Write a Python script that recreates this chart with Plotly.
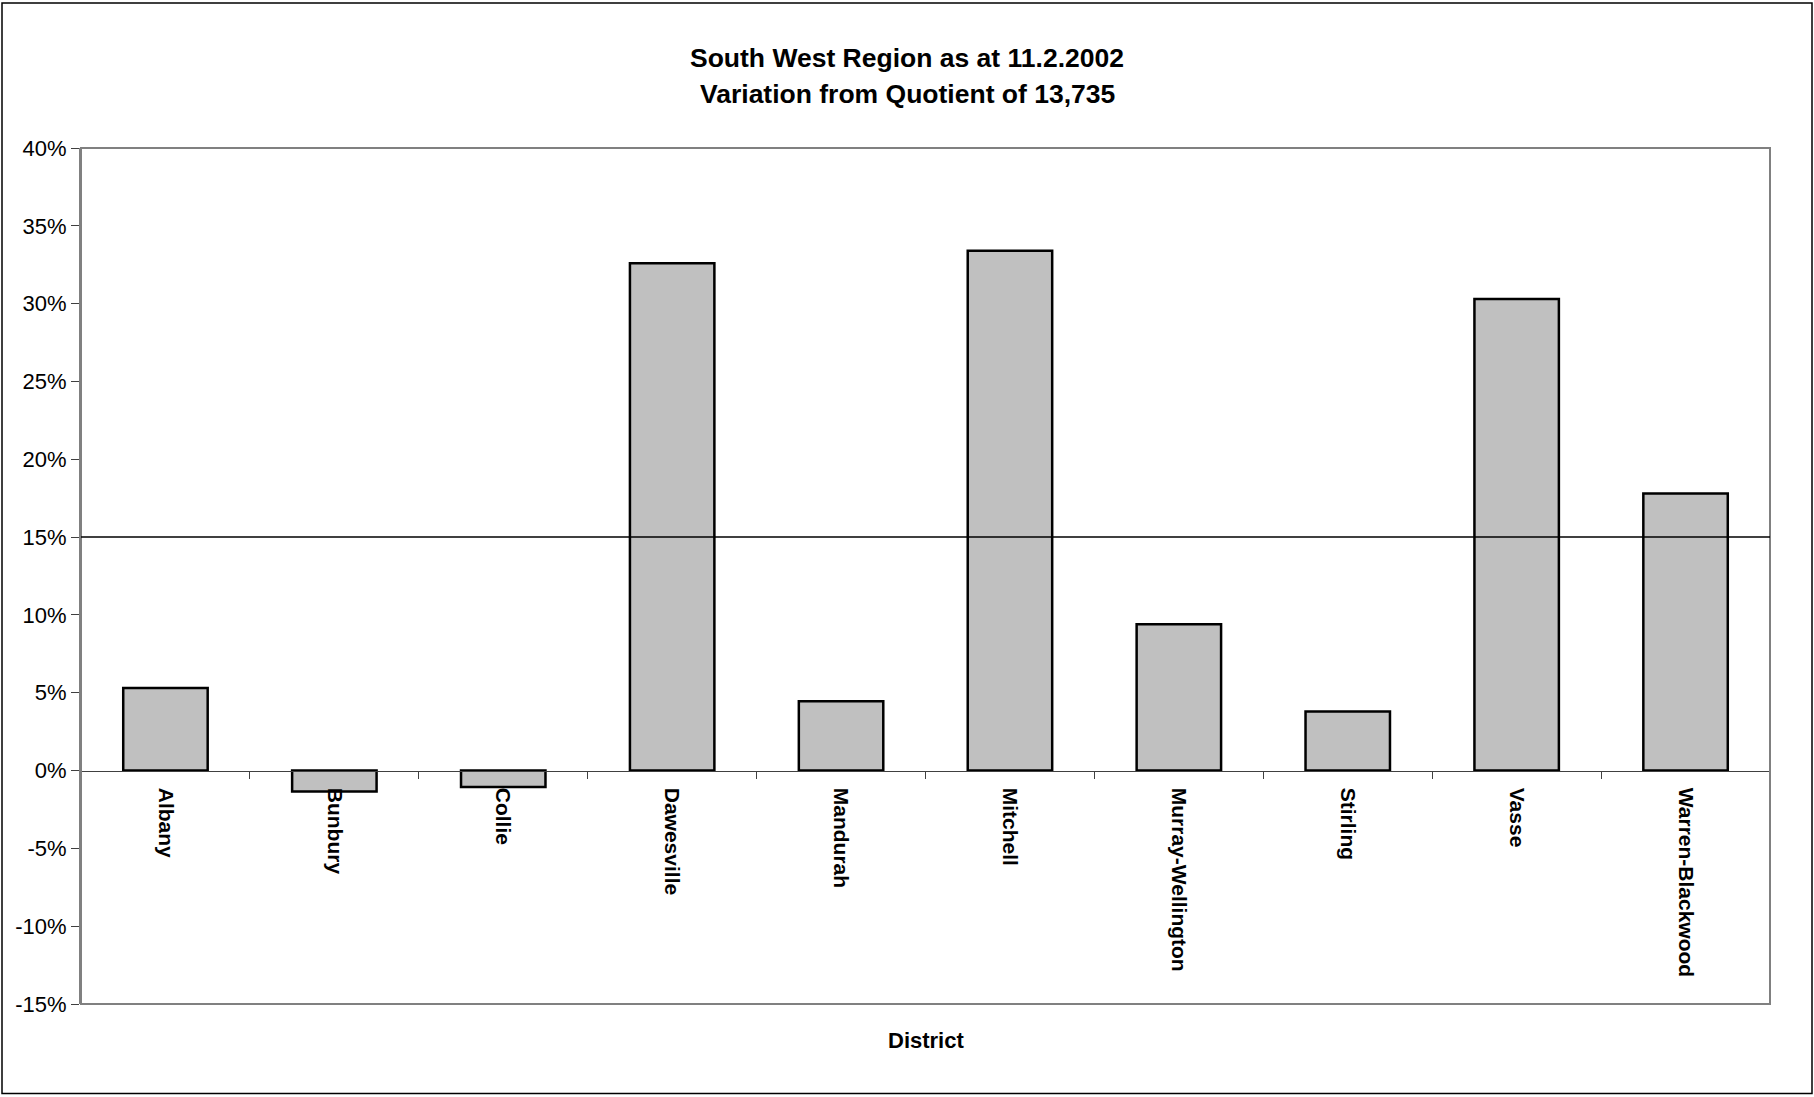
import plotly.graph_objects as go

districts = ["Albany", "Bunbury", "Collie", "Dawesville", "Mandurah", "Mitchell",
             "Murray-Wellington", "Stirling", "Vasse", "Warren-Blackwood"]
variation = [0.053, -0.0135, -0.0105, 0.326, 0.0445, 0.334, 0.094, 0.038, 0.303, 0.178]
y_tick_vals = [-0.15, -0.10, -0.05, 0.0, 0.05, 0.10, 0.15, 0.20, 0.25, 0.30, 0.35, 0.40]
y_tick_text = ["-15%", "-10%", "-5%", "0%", "5%", "10%", "15%", "20%", "25%", "30%", "35%", "40%"]
tolerance_line = 0.15
title_lines = ["South West Region as at 11.2.2002", "Variation from Quotient of 13,735"]
x_title = "District"

FONT = "Liberation Sans, Arial, sans-serif"
W, H = 1814, 1097
ml, mr, mt, mb = 81, 44, 148, 92.5
pw, ph = W - ml - mr, H - mt - mb
ymin, ymax = y_tick_vals[0], y_tick_vals[-1]

def px_to_paper_x(px):
    return (px - ml) / pw

def px_to_paper_y(py):
    return (H - mb - py) / ph

fig = go.Figure()
fig.add_trace(go.Bar(
    x=districts, y=variation,
    marker=dict(color="#C0C0C0", line=dict(color="black", width=2.5)),
    hoverinfo="x+y",
))

fig.update_layout(
    width=W, height=H,
    margin=dict(l=ml, r=mr, t=mt, b=mb),
    paper_bgcolor="white", plot_bgcolor="white",
    showlegend=False,
    bargap=0.5,
    font=dict(family=FONT, size=21, color="black"),
    xaxis=dict(
        type="category",
        anchor="free",
        position=(0 - ymin) / (ymax - ymin),
        showline=True, linecolor="#404040", linewidth=1,
        ticks="outside", ticklen=7, tickcolor="#404040", tickwidth=1,
        tickson="boundaries",
        tickangle=90,
        ticklabelstandoff=12,
        tickfont=dict(family=FONT, size=21, color="black", weight="bold"),
        showgrid=False, zeroline=False,
    ),
    yaxis=dict(
        range=[ymin, ymax],
        tickvals=y_tick_vals, ticktext=y_tick_text,
        showline=True, linecolor="#808080", linewidth=2,
        ticks="outside", ticklen=8, tickcolor="#404040",
        tickfont=dict(family=FONT, size=22, color="black"),
        showgrid=False, zeroline=False,
    ),
)

shapes = [
    # plot area border
    dict(type="rect", xref="paper", yref="paper", x0=0, x1=1, y0=0, y1=1,
         line=dict(color="#808080", width=2), layer="above"),
    # 15% tolerance line
    dict(type="line", xref="paper", yref="y", x0=0, x1=1, y0=tolerance_line, y1=tolerance_line,
         line=dict(color="black", width=1.5), layer="above"),
    # outer chart border
    dict(type="rect", xref="paper", yref="paper",
         x0=px_to_paper_x(2), x1=px_to_paper_x(1812),
         y0=px_to_paper_y(1094), y1=px_to_paper_y(3),
         line=dict(color="black", width=1.5)),
]
fig.update_layout(shapes=shapes)

annotations = [
    dict(text="<b>%s</b>" % title_lines[0], xref="paper", yref="paper",
         x=px_to_paper_x(907), y=px_to_paper_y(58), xanchor="center", yanchor="middle",
         showarrow=False, font=dict(family=FONT, size=26.5, color="black")),
    dict(text="<b>%s</b>" % title_lines[1], xref="paper", yref="paper",
         x=px_to_paper_x(907), y=px_to_paper_y(94), xanchor="center", yanchor="middle",
         showarrow=False, font=dict(family=FONT, size=26.5, color="black")),
    dict(text="<b>%s</b>" % x_title, xref="paper", yref="paper",
         x=0.5, y=px_to_paper_y(1041), xanchor="center", yanchor="middle",
         showarrow=False, font=dict(family=FONT, size=22, color="black")),
]
fig.update_layout(annotations=annotations)

fig.write_html("out.html",
               config={"displayModeBar": False},
               post_script="document.body.style.margin='0';document.body.style.overflow='hidden';")
